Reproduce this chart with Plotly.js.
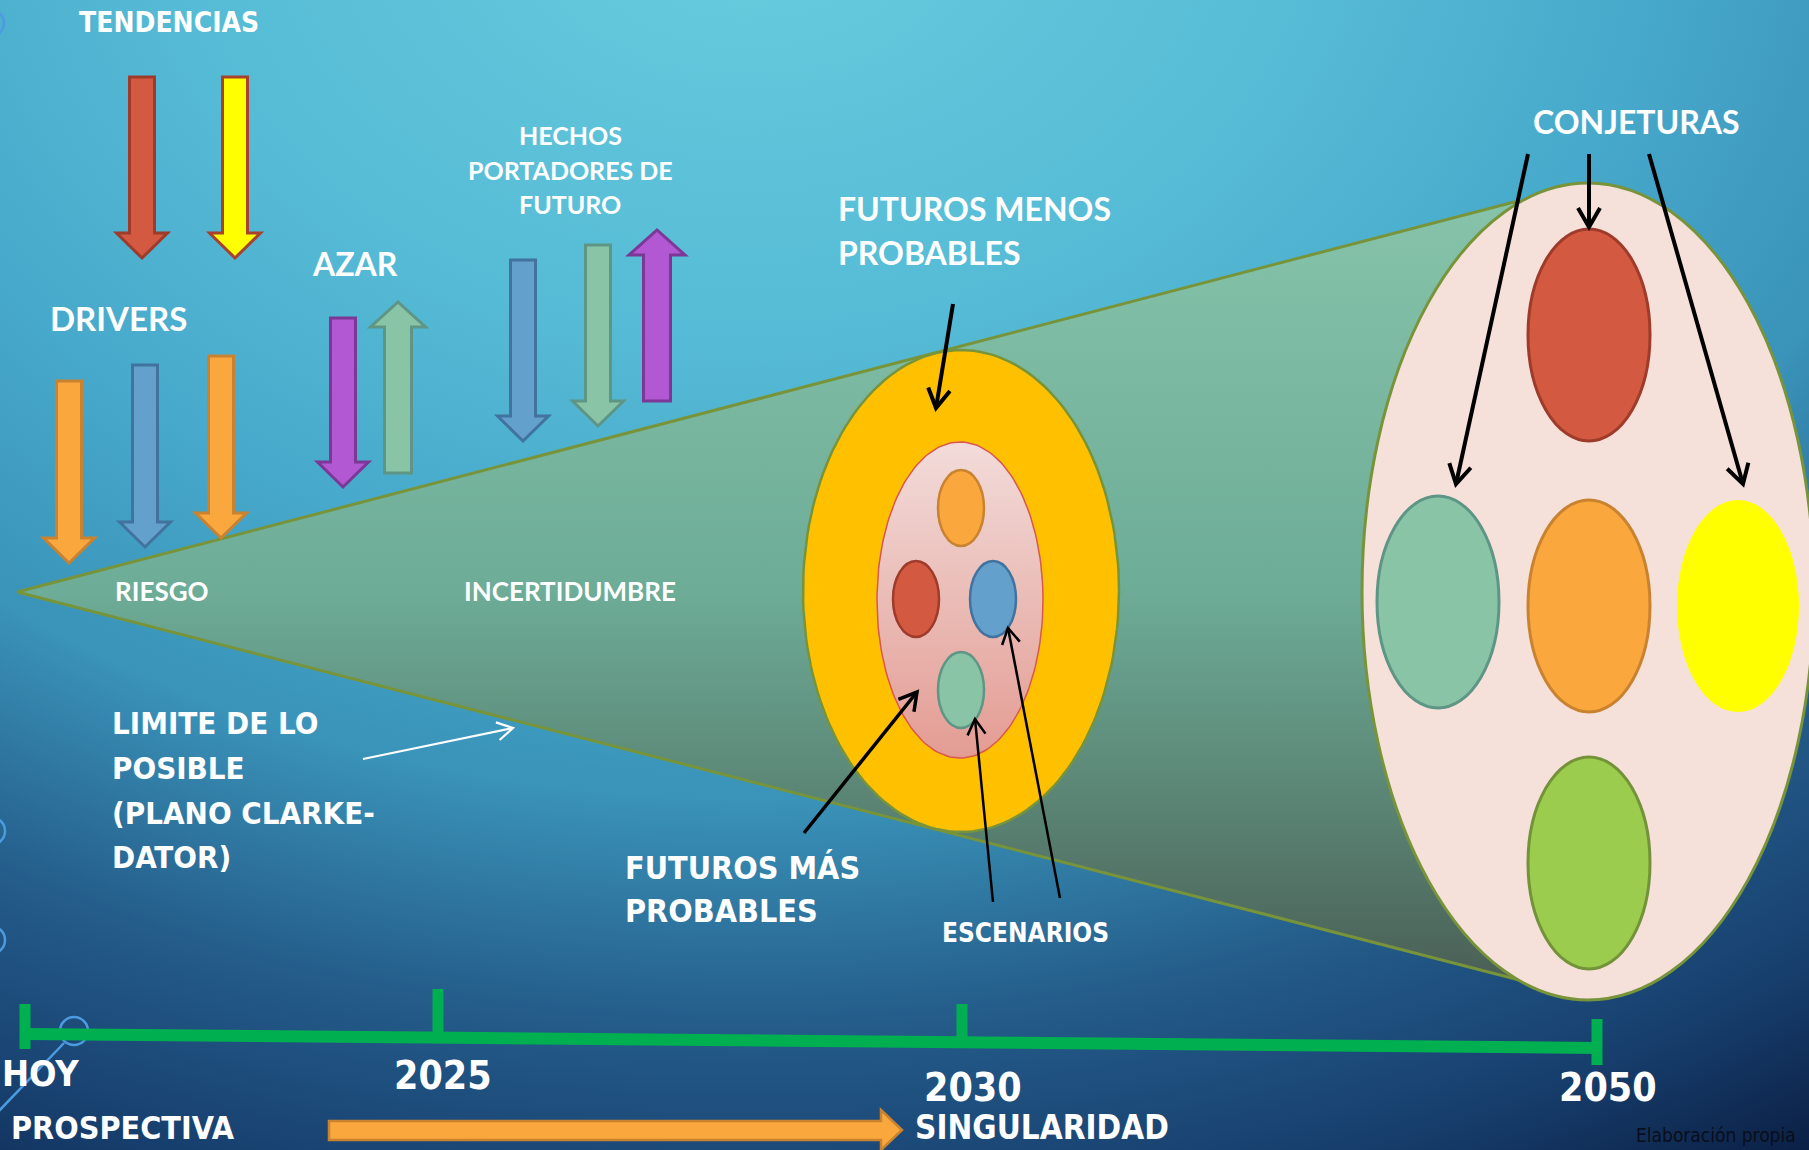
<!DOCTYPE html>
<html><head><meta charset="utf-8">
<script src="https://cdn.plot.ly/plotly-3.0.1.min.js"></script>
<style>
html,body{margin:0;padding:0;width:1809px;height:1150px;overflow:hidden;}
body{background: radial-gradient(ellipse 2000px 1500px at 750px -100px, #68CEDE 0%, #55BAD5 30%, #47A9CB 45%, #3A93B9 60%, #245C8A 75%, #173F6E 88%, #0A1C40 100%);}
#chart{width:1809px;height:1150px;}
</style></head><body><div id="chart"></div>
<script>
// ---------------- content (labels) ----------------
const topLabels = ['TENDENCIAS', 'DRIVERS', 'AZAR'];
const hechosLines = ['HECHOS', 'PORTADORES DE', 'FUTURO'];
const zoneLabels = ['RIESGO', 'INCERTIDUMBRE'];
const limiteLines = ['LIMITE DE LO', 'POSIBLE', '(PLANO CLARKE-', 'DATOR)'];
const menosLines = ['FUTUROS MENOS', 'PROBABLES'];
const masLines = ['FUTUROS MÁS', 'PROBABLES'];
const scenarioLabel = 'ESCENARIOS';
const conjectureLabel = 'CONJETURAS';
const timelineLabels = ['HOY', '2025', '2030', '2050'];
const horizonLabels = ['PROSPECTIVA', 'SINGULARIDAD'];
const sourceNote = 'Elaboración propia';

// ---------------- styles ----------------
const W = 1809, H = 1150;
const COND = "'DejaVu Sans Condensed', 'Liberation Sans Narrow', 'Arial Narrow', sans-serif";
const WIDE = "Lato, 'Open Sans', sans-serif";
const PAL = {
  red: ['#D35A41', '#9E3B2B'], yellow: ['#FFFF00', '#A8412E'], orange: ['#FAA73D', '#C98330'],
  blue: ['#63A0CB', '#41739E'], purple: ['#B158D2', '#7B3896'], green: ['#89C4A7', '#5F9585'],
  lime: ['#9BCC4D', '#74923A']
};
const OLIVE = '#78943A';

// ---------------- geometry (pixel space: axes map 1:1) ----------------
const blockArrows = [
  {c: 'red', x: 142, from: 77, to: 258},
  {c: 'yellow', x: 235, from: 77, to: 258},
  {c: 'orange', x: 69, from: 381, to: 563},
  {c: 'blue', x: 145, from: 365, to: 547},
  {c: 'orange', x: 221, from: 356, to: 538},
  {c: 'purple', x: 343, from: 318, to: 487},
  {c: 'green', x: 398, from: 473, to: 302, w: 27, hw: 55},
  {c: 'blue', x: 523, from: 260, to: 441},
  {c: 'green', x: 598, from: 245, to: 426},
  {c: 'purple', x: 657, from: 401, to: 230, w: 27, hw: 56}
];
const midEllipse = {cx: 961, cy: 591, rx: 158, ry: 241};
const pinkEllipse = {cx: 960, cy: 600, rx: 83, ry: 158};
const midDots = [
  {c: 'orange', cx: 961, cy: 508}, {c: 'red', cx: 916, cy: 599},
  {c: 'blue', cx: 993, cy: 599}, {c: 'green', cx: 961, cy: 690}
];
const bigEllipse = {cx: 1588, cy: 591.5, rx: 226, ry: 408.5};
const bigDots = [
  {c: 'red', cx: 1589, cy: 335}, {c: 'green', cx: 1438, cy: 602},
  {c: 'orange', cx: 1589, cy: 606}, {c: 'yellow', cx: 1738, cy: 606, noline: true},
  {c: 'lime', cx: 1589, cy: 863}
];
const cone = {apex: [17, 592], upper: [1514, 202], lower: [1523, 981]};
const lineArrows = [
  {from: [953, 304], to: [936, 408], w: 4, L: 22},
  {from: [1528, 154], to: [1456, 484], w: 4, L: 22},
  {from: [1589, 154], to: [1589, 227], w: 4, L: 22},
  {from: [1649, 154], to: [1743, 484], w: 4, L: 22},
  {from: [804, 833], to: [917, 692], w: 3.5, L: 20},
  {from: [993, 902], to: [975, 719], w: 2.5, L: 18},
  {from: [1060, 898], to: [1008, 628], w: 2.5, L: 18},
  {from: [363, 759], to: [513, 728], w: 2.2, L: 18, c: '#FFFFFF'}
];
const timeline = {x0: 25, y0: 1034, x1: 1597, y1: 1048};
const ticks = [
  {x: 25, y0: 1004, y1: 1049}, {x: 438, y0: 989, y1: 1034},
  {x: 962, y0: 1004, y1: 1040}, {x: 1597, y0: 1019, y1: 1065}
];

// ---------------- builders ----------------
function ellipsePts(e, n) {
  const xs = [], ys = [];
  for (let i = 0; i <= n; i++) {
    const t = 2 * Math.PI * i / n;
    xs.push(e.cx + e.rx * Math.cos(t)); ys.push(e.cy + e.ry * Math.sin(t));
  }
  return {xs, ys};
}
function blockPath(a) {
  const sw = (a.w || 25) / 2, hw = (a.hw || 51) / 2, hl = a.hl || 25;
  const d = a.to > a.from ? 1 : -1;
  const hb = a.to - d * hl;
  return `M${a.x - sw},${a.from} L${a.x + sw},${a.from} L${a.x + sw},${hb} L${a.x + hw},${hb} L${a.x},${a.to} L${a.x - hw},${hb} L${a.x - sw},${hb} Z`;
}
function headPath(a) {
  const dx = a.to[0] - a.from[0], dy = a.to[1] - a.from[1];
  const len = Math.hypot(dx, dy), ux = dx / len, uy = dy / len;
  const ang = Math.PI / 6, L = a.L;
  const p = s => {
    const c = Math.cos(s * ang), sn = Math.sin(s * ang);
    const rx = ux * c - uy * sn, ry = ux * sn + uy * c;
    return [a.to[0] - L * rx, a.to[1] - L * ry];
  };
  const p1 = p(1), p2 = p(-1);
  return `M${p1[0]},${p1[1]} L${a.to[0]},${a.to[1]} L${p2[0]},${p2[1]}`;
}

const traces = [];
// cone
traces.push({
  type: 'scatter', mode: 'lines', hoverinfo: 'skip', showlegend: false,
  x: [cone.apex[0], cone.upper[0], 1600, 1600, cone.lower[0], cone.apex[0]],
  y: [cone.apex[1], cone.upper[1], 400, 800, cone.lower[1], cone.apex[1]],
  fill: 'toself',
  fillgradient: {type: 'vertical', start: 200, stop: 985,
    colorscale: [[0, '#86C3AA'], [0.5, '#6DAC97'], [0.8, '#587F70'], [1, '#4A5E55']]},
  line: {color: OLIVE, width: 3}
});
// middle yellow ellipse
let pe = ellipsePts(midEllipse, 160);
traces.push({type: 'scatter', mode: 'lines', hoverinfo: 'skip', showlegend: false,
  x: pe.xs, y: pe.ys, fill: 'toself', fillcolor: '#FFC000', line: {color: OLIVE, width: 2.5}});
// pink inner ellipse with gradient
pe = ellipsePts(pinkEllipse, 160);
traces.push({type: 'scatter', mode: 'lines', hoverinfo: 'skip', showlegend: false,
  x: pe.xs, y: pe.ys, fill: 'toself',
  fillgradient: {type: 'vertical', start: 441, stop: 758,
    colorscale: [[0, '#F2DCDA'], [1, '#E39C93']]},
  line: {color: '#D9574E', width: 1.5}});

const shapes = [];
// big ellipse
shapes.push({type: 'circle', xref: 'x', yref: 'y',
  x0: bigEllipse.cx - bigEllipse.rx, x1: bigEllipse.cx + bigEllipse.rx,
  y0: bigEllipse.cy - bigEllipse.ry, y1: bigEllipse.cy + bigEllipse.ry,
  fillcolor: '#F6E0DA', line: {color: OLIVE, width: 3}});
midDots.forEach(d => shapes.push({type: 'circle', xref: 'x', yref: 'y',
  x0: d.cx - 23, x1: d.cx + 23, y0: d.cy - 38, y1: d.cy + 38,
  fillcolor: PAL[d.c][0], line: {color: PAL[d.c][1], width: 2.5}}));
bigDots.forEach(d => shapes.push({type: 'circle', xref: 'x', yref: 'y',
  x0: d.cx - 61, x1: d.cx + 61, y0: d.cy - 106, y1: d.cy + 106,
  fillcolor: PAL[d.c][0], line: {color: d.noline ? PAL[d.c][0] : PAL[d.c][1], width: d.noline ? 0 : 3}}));
// block arrows
blockArrows.forEach(a => shapes.push({type: 'path', xref: 'x', yref: 'y', path: blockPath(a),
  fillcolor: PAL[a.c][0], line: {color: PAL[a.c][1], width: 3}}));
// line arrows
lineArrows.forEach(a => {
  const col = a.c || '#000000';
  shapes.push({type: 'line', xref: 'x', yref: 'y', x0: a.from[0], y0: a.from[1], x1: a.to[0], y1: a.to[1],
    line: {color: col, width: a.w}});
  shapes.push({type: 'path', xref: 'x', yref: 'y', path: headPath(a), line: {color: col, width: a.w}});
});
// decorative circles
[[-9, 23, 13], [-9, 831, 14], [-9, 940, 14], [74, 1031, 14]].forEach(c => shapes.push({
  type: 'circle', xref: 'x', yref: 'y', x0: c[0] - c[2], x1: c[0] + c[2], y0: c[1] - c[2], y1: c[1] + c[2],
  line: {color: '#4C9BE0', width: 2.5}, fillcolor: 'rgba(0,0,0,0)'}));
shapes.push({type: 'line', xref: 'x', yref: 'y', x0: 64, y0: 1043, x1: -2, y1: 1112, line: {color: '#4C9BE0', width: 2.5}});
// timeline
shapes.push({type: 'line', xref: 'x', yref: 'y', x0: timeline.x0, y0: timeline.y0, x1: timeline.x1, y1: timeline.y1,
  line: {color: '#00B050', width: 12}});
ticks.forEach(t => shapes.push({type: 'line', xref: 'x', yref: 'y', x0: t.x, x1: t.x, y0: t.y0, y1: t.y1,
  line: {color: '#00B050', width: 11}}));
// orange horizon arrow
shapes.push({type: 'path', xref: 'x', yref: 'y',
  path: 'M329,1121 L881,1121 L881,1110 L902,1130 L881,1150 L881,1140 L329,1140 Z',
  fillcolor: '#FAA73D', line: {color: '#C98330', width: 2.5}});

// ---------------- text ----------------
function txt(text, x, y, size, family, opts) {
  return Object.assign({text: '<b>' + text + '</b>', x: x, y: y, xref: 'x', yref: 'y', showarrow: false,
    font: {family: family, size: size, color: '#FFFFFF'}, xanchor: 'center', yanchor: 'middle'}, opts || {});
}
const ann = [];
ann.push(txt(topLabels[0], 169, 22, 28, COND));
ann.push(txt(topLabels[1], 118, 318, 33, WIDE));
ann.push(txt(topLabels[2], 355, 263, 32, WIDE));
[135, 170, 204].forEach((y, i) => ann.push(txt(hechosLines[i], 570, y, 25, WIDE)));
ann.push(txt(zoneLabels[0], 162, 591, 26, WIDE));
ann.push(txt(zoneLabels[1], 570, 591, 26, WIDE));
[723, 768, 813, 857].forEach((y, i) => ann.push(txt(limiteLines[i], 110, y, 31, COND, {xanchor: 'left'})));
[208, 252].forEach((y, i) => ann.push(txt(menosLines[i], 836, y, 32, WIDE, {xanchor: 'left'})));
[868, 911].forEach((y, i) => ann.push(txt(masLines[i], 623, y, 32, COND, {xanchor: 'left'})));
ann.push(txt(scenarioLabel, 1025, 933, 26, COND));
ann.push(txt(conjectureLabel, 1636, 121, 32, WIDE));
ann.push(txt(timelineLabels[0], 0, 1073, 36, COND, {xanchor: 'left'}));
ann.push(txt(timelineLabels[1], 443, 1075, 39, COND));
ann.push(txt(timelineLabels[2], 973, 1087, 39, COND));
ann.push(txt(timelineLabels[3], 1608, 1087, 39, COND));
ann.push(txt(horizonLabels[0], 123, 1128, 32, COND));
ann.push(txt(horizonLabels[1], 1042, 1127, 33, COND));
ann.push({text: sourceNote, x: 1716, y: 1135, xref: 'x', yref: 'y', showarrow: false,
  font: {family: COND, size: 19, color: '#0A0D1A'}, xanchor: 'center', yanchor: 'middle'});

const layout = {
  width: W, height: H, margin: {l: 0, r: 0, t: 0, b: 0, pad: 0},
  paper_bgcolor: 'rgba(0,0,0,0)', plot_bgcolor: 'rgba(0,0,0,0)', showlegend: false,
  xaxis: {range: [0, W], visible: false, fixedrange: true},
  yaxis: {range: [H, 0], visible: false, fixedrange: true},
  shapes: shapes, annotations: ann
};
Plotly.newPlot('chart', traces, layout, {staticPlot: true, displayModeBar: false});
</script></body></html>
